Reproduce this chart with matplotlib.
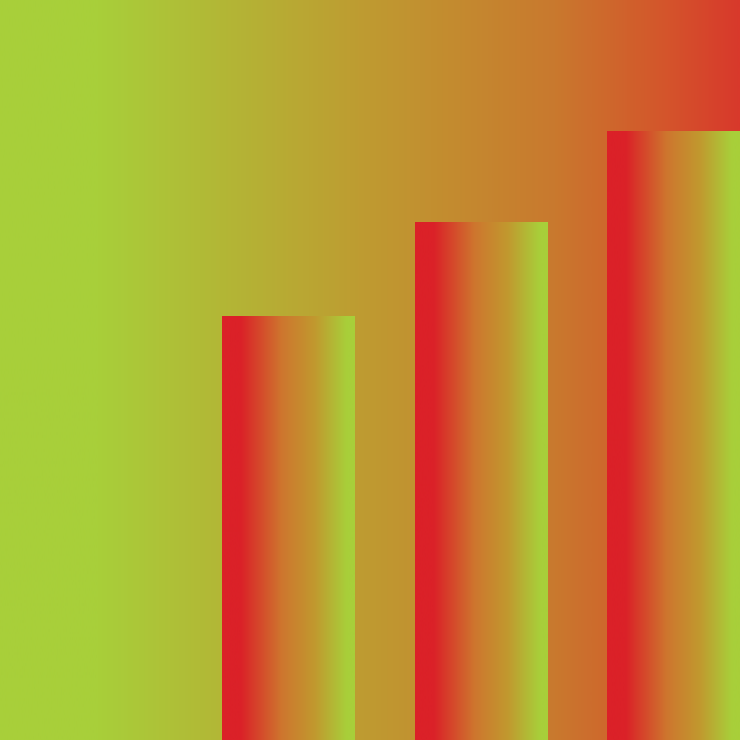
import numpy as np
import matplotlib.pyplot as plt
from matplotlib.colors import LinearSegmentedColormap

# bar heights (axis runs 0..74)
positions = [1, 2, 3]
heights = [42.4, 51.8, 60.9]

green = '#a8cf3a'
red_bg = '#d8392b'
red_bar = '#db2128'

bg_cmap = LinearSegmentedColormap.from_list(
    'bg', [(0, green), (0.13, green), (0.5, '#bf9a31'), (0.75, '#c9792e'),
           (0.9, '#d4552b'), (1, red_bg)])
bar_cmap = LinearSegmentedColormap.from_list(
    'bar', [(0, red_bar), (0.14, red_bar), (0.45, '#ce762e'), (0.7, '#c1992f'),
            (0.94, green), (1, green)])

fig = plt.figure(figsize=(7.4, 7.4), dpi=100)
ax = fig.add_axes([0, 0, 1, 1])
xmin, xmax = -0.5, 3.345
ymax = 74
ax.set_xlim(xmin, xmax)
ax.set_ylim(0, ymax)
ax.axis('off')

grad = np.linspace(0, 1, 512).reshape(1, -1)

# background gradient
ax.imshow(grad, cmap=bg_cmap, aspect='auto', extent=(xmin, xmax, 0, ymax), zorder=0)

# bars filled with their own gradient
width = 0.69
bars = ax.bar(positions, heights, width=width, color='none', edgecolor='none', zorder=1)
for b in bars:
    x0 = b.get_x()
    im = ax.imshow(grad, cmap=bar_cmap, aspect='auto',
                   extent=(x0, x0 + b.get_width(), 0, b.get_height()), zorder=2)
    im.set_clip_path(b)

ax.set_xlim(xmin, xmax)
ax.set_ylim(0, ymax)
fig.savefig('out.png', dpi=100)
